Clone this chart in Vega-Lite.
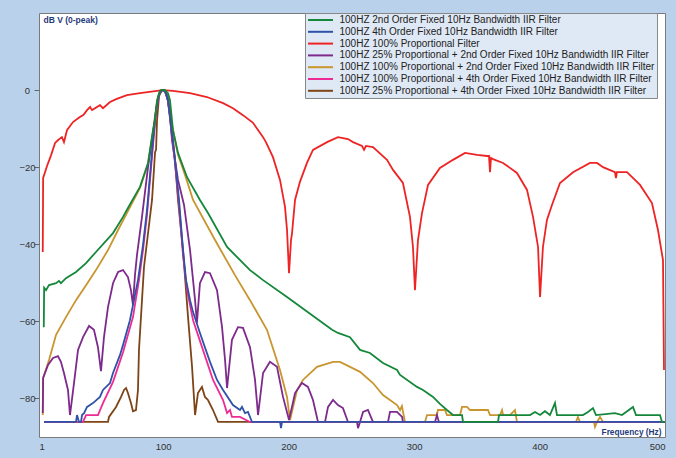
{
  "$schema": "https://vega.github.io/schema/vega-lite/v6.json",
  "width": 626,
  "height": 424,
  "autosize": {"type": "none"},
  "padding": {"left": 39, "top": 13, "right": 11, "bottom": 21},
  "background": "#b9d1ea",
  "config": {
    "font": "Liberation Sans",
    "view": {"stroke": "#7a7a7a", "fill": "white", "strokeWidth": 1}
  },
  "datasets": {
    "names": [
      {"k": 1, "series": "100HZ 2nd Order Fixed 10Hz Bandwidth IIR Filter"},
      {"k": 2, "series": "100HZ 4th Order Fixed 10Hz Bandwidth IIR Filter"},
      {"k": 3, "series": "100HZ 100% Proportional Filter"},
      {"k": 4, "series": "100HZ 25% Proportional + 2nd Order Fixed 10Hz Bandwidth IIR Filter"},
      {"k": 5, "series": "100HZ 100% Proportional + 2nd Order Fixed 10Hz Bandwidth IIR Filter"},
      {"k": 6, "series": "100HZ 100% Proportional + 4th Order Fixed 10Hz Bandwidth IIR Filter"},
      {"k": 7, "series": "100HZ 25% Proportional + 4th Order Fixed 10Hz Bandwidth IIR Filter"}
    ],
    "curves": [
      {"k":1,"hz":4.8,"db":-61.5},{"k":1,"hz":5.1,"db":-51.3},{"k":1,"hz":6.6,"db":-51.9},{"k":1,"hz":9.0,"db":-50.6},
      {"k":1,"hz":14.6,"db":-50.1},{"k":1,"hz":16.9,"db":-49.5},{"k":1,"hz":18.5,"db":-50.1},{"k":1,"hz":22.5,"db":-48.8},
      {"k":1,"hz":30.5,"db":-47.2},{"k":1,"hz":38.5,"db":-44.9},{"k":1,"hz":46.4,"db":-42.0},{"k":1,"hz":60.0,"db":-37.1},
      {"k":1,"hz":68.0,"db":-32.9},{"k":1,"hz":71.9,"db":-30.6},{"k":1,"hz":81.5,"db":-25.1},{"k":1,"hz":87.9,"db":-18.9},
      {"k":1,"hz":91.9,"db":-10.4},{"k":1,"hz":93.5,"db":-7.8},{"k":1,"hz":95.1,"db":-2.6},{"k":1,"hz":96.7,"db":-0.8},
      {"k":1,"hz":98.3,"db":0},{"k":1,"hz":101.4,"db":0},{"k":1,"hz":103.8,"db":-0.8},{"k":1,"hz":105.4,"db":-2.6},
      {"k":1,"hz":107.8,"db":-10.4},{"k":1,"hz":111.8,"db":-16.3},{"k":1,"hz":119.0,"db":-22.6},{"k":1,"hz":129.3,"db":-28.5},
      {"k":1,"hz":135.7,"db":-31.9},{"k":1,"hz":150.9,"db":-40.7},{"k":1,"hz":169.2,"db":-46.7},{"k":1,"hz":179.6,"db":-49.3},
      {"k":1,"hz":198.7,"db":-53.7},{"k":1,"hz":234.6,"db":-62.2},{"k":1,"hz":239.3,"db":-63.0},{"k":1,"hz":248.9,"db":-64.1},
      {"k":1,"hz":256.9,"db":-67.4},{"k":1,"hz":264.8,"db":-68.2},{"k":1,"hz":275.2,"db":-70.8},{"k":1,"hz":286.4,"db":-72.6},
      {"k":1,"hz":288.8,"db":-73.9},{"k":1,"hz":302.3,"db":-77.0},{"k":1,"hz":307.1,"db":-77.8},{"k":1,"hz":315.1,"db":-79.6},
      {"k":1,"hz":320.6,"db":-81.4},{"k":1,"hz":326.2,"db":-83.0},{"k":1,"hz":331.0,"db":-84.3},{"k":1,"hz":338.2,"db":-84.3},
      {"k":1,"hz":339.0,"db":-86.1},{"k":1,"hz":366.9,"db":-86.1},{"k":1,"hz":367.7,"db":-84.3},{"k":1,"hz":392.4,"db":-84.3},
      {"k":1,"hz":396.4,"db":-83.5},{"k":1,"hz":400.4,"db":-84.3},{"k":1,"hz":404.3,"db":-83.3},{"k":1,"hz":408.3,"db":-84.3},
      {"k":1,"hz":412.3,"db":-81.2},{"k":1,"hz":413.9,"db":-84.3},{"k":1,"hz":434.6,"db":-84.3},{"k":1,"hz":438.6,"db":-83.5},
      {"k":1,"hz":442.6,"db":-82.5},{"k":1,"hz":445.0,"db":-84.3},{"k":1,"hz":460.1,"db":-83.8},{"k":1,"hz":465.7,"db":-84.3},
      {"k":1,"hz":474.5,"db":-82.2},{"k":1,"hz":476.9,"db":-84.3},{"k":1,"hz":496.0,"db":-84.3},{"k":1,"hz":497.6,"db":-86.1},
      {"k":1,"hz":500,"db":-86.1},

      {"k":2,"hz":5.0,"db":-86.1},{"k":2,"hz":30.5,"db":-86.1},{"k":2,"hz":31.3,"db":-84.3},{"k":2,"hz":32.9,"db":-86.1},
      {"k":2,"hz":34.5,"db":-86.1},{"k":2,"hz":35.3,"db":-84.3},{"k":2,"hz":36.9,"db":-83.8},{"k":2,"hz":39.3,"db":-82.2},
      {"k":2,"hz":41.7,"db":-81.7},{"k":2,"hz":44.0,"db":-81.2},{"k":2,"hz":49.6,"db":-79.6},{"k":2,"hz":52.0,"db":-77.8},
      {"k":2,"hz":57.6,"db":-76.0},{"k":2,"hz":60.0,"db":-73.4},{"k":2,"hz":65.6,"db":-68.7},{"k":2,"hz":68.0,"db":-66.1},
      {"k":2,"hz":73.5,"db":-59.7},{"k":2,"hz":75.9,"db":-55.8},{"k":2,"hz":79.9,"db":-49.3},{"k":2,"hz":83.9,"db":-40.2},
      {"k":2,"hz":87.1,"db":-31.1},{"k":2,"hz":89.5,"db":-22.0},{"k":2,"hz":91.9,"db":-13.0},{"k":2,"hz":94.3,"db":-5.2},
      {"k":2,"hz":96.7,"db":-1.0},{"k":2,"hz":99.0,"db":0},{"k":2,"hz":101.4,"db":-0.2},{"k":2,"hz":103.8,"db":-2.6},
      {"k":2,"hz":106.2,"db":-9.1},{"k":2,"hz":109.4,"db":-18.1},{"k":2,"hz":112.6,"db":-28.5},{"k":2,"hz":115.8,"db":-41.5},
      {"k":2,"hz":118.2,"db":-49.3},{"k":2,"hz":121.4,"db":-54.5},{"k":2,"hz":123.8,"db":-57.6},{"k":2,"hz":129.3,"db":-63.0},
      {"k":2,"hz":137.3,"db":-70.5},{"k":2,"hz":142.9,"db":-75.2},{"k":2,"hz":147.7,"db":-77.8},{"k":2,"hz":155.6,"db":-81.7},
      {"k":2,"hz":161.2,"db":-83.0},{"k":2,"hz":162.8,"db":-82.2},{"k":2,"hz":165.2,"db":-83.8},{"k":2,"hz":167.6,"db":-83.5},
      {"k":2,"hz":170.8,"db":-86.1},{"k":2,"hz":193.1,"db":-86.1},{"k":2,"hz":193.9,"db":-87.7},{"k":2,"hz":194.7,"db":-86.1},
      {"k":2,"hz":500,"db":-86.1},

      {"k":3,"hz":4.0,"db":-42.0},{"k":3,"hz":4.3,"db":-22.8},{"k":3,"hz":7.4,"db":-19.7},{"k":3,"hz":10.5,"db":-17.0},{"k":3,"hz":13.8,"db":-13.7},
      {"k":3,"hz":16.5,"db":-12.9},{"k":3,"hz":19.3,"db":-12.2},{"k":3,"hz":20.9,"db":-13.5},{"k":3,"hz":23.3,"db":-10.4},{"k":3,"hz":28.1,"db":-8.3},
      {"k":3,"hz":33.0,"db":-7.1},{"k":3,"hz":36.5,"db":-6.4},{"k":3,"hz":39.3,"db":-5.2},{"k":3,"hz":41.7,"db":-4.4},{"k":3,"hz":43.3,"db":-5.2},{"k":3,"hz":49.6,"db":-3.9},
      {"k":3,"hz":52.0,"db":-4.7},{"k":3,"hz":57.6,"db":-3.1},{"k":3,"hz":63.0,"db":-2.3},{"k":3,"hz":71.1,"db":-1.3},{"k":3,"hz":81.5,"db":-0.8},
      {"k":3,"hz":95.1,"db":-0.2},{"k":3,"hz":99.8,"db":0},{"k":3,"hz":107.8,"db":-0.2},{"k":3,"hz":121.4,"db":-0.8},
      {"k":3,"hz":134.9,"db":-1.8},{"k":3,"hz":147.7,"db":-3.4},{"k":3,"hz":155.6,"db":-4.7},{"k":3,"hz":163.6,"db":-6.5},
      {"k":3,"hz":171.6,"db":-8.5},{"k":3,"hz":179.6,"db":-12.2},{"k":3,"hz":181.9,"db":-13.5},{"k":3,"hz":187.5,"db":-17.4},
      {"k":3,"hz":193.1,"db":-23.3},{"k":3,"hz":197.1,"db":-30.3},{"k":3,"hz":198.7,"db":-36.3},{"k":3,"hz":200.3,"db":-47.5},
      {"k":3,"hz":201.9,"db":-38.9},{"k":3,"hz":202.7,"db":-37.1},{"k":3,"hz":205.1,"db":-28.5},{"k":3,"hz":209.0,"db":-23.8},
      {"k":3,"hz":214.6,"db":-18.9},{"k":3,"hz":219.4,"db":-15.5},{"k":3,"hz":230.6,"db":-13.5},{"k":3,"hz":239.3,"db":-12.2},
      {"k":3,"hz":247.3,"db":-12.7},{"k":3,"hz":251.3,"db":-13.5},{"k":3,"hz":258.5,"db":-14.5},{"k":3,"hz":260.1,"db":-15.5},
      {"k":3,"hz":261.6,"db":-14.5},{"k":3,"hz":267.2,"db":-14.8},{"k":3,"hz":278.4,"db":-18.1},{"k":3,"hz":283.2,"db":-20.7},
      {"k":3,"hz":291.1,"db":-24.1},{"k":3,"hz":296.7,"db":-32.9},{"k":3,"hz":299.1,"db":-40.7},{"k":3,"hz":300.7,"db":-51.9},
      {"k":3,"hz":303.1,"db":-38.9},{"k":3,"hz":306.3,"db":-31.9},{"k":3,"hz":311.1,"db":-24.6},{"k":3,"hz":320.6,"db":-20.2},
      {"k":3,"hz":331.0,"db":-18.1},{"k":3,"hz":340.6,"db":-16.3},{"k":3,"hz":350.1,"db":-16.8},{"k":3,"hz":358.1,"db":-17.1},
      {"k":3,"hz":359.7,"db":-17.1},{"k":3,"hz":360.5,"db":-21.3},{"k":3,"hz":361.3,"db":-17.6},{"k":3,"hz":362.9,"db":-17.9},
      {"k":3,"hz":370.9,"db":-18.9},{"k":3,"hz":382.0,"db":-21.5},{"k":3,"hz":390.0,"db":-25.9},{"k":3,"hz":394.8,"db":-32.9},
      {"k":3,"hz":398.8,"db":-40.7},{"k":3,"hz":400.4,"db":-53.7},{"k":3,"hz":402.7,"db":-40.7},{"k":3,"hz":405.9,"db":-33.7},
      {"k":3,"hz":409.9,"db":-29.8},{"k":3,"hz":416.3,"db":-24.1},{"k":3,"hz":426.7,"db":-21.3},{"k":3,"hz":440.2,"db":-18.9},
      {"k":3,"hz":445.8,"db":-18.9},{"k":3,"hz":450.6,"db":-20.0},{"k":3,"hz":460.1,"db":-21.3},{"k":3,"hz":460.9,"db":-22.8},
      {"k":3,"hz":461.7,"db":-21.3},{"k":3,"hz":469.7,"db":-21.3},{"k":3,"hz":480.1,"db":-24.6},{"k":3,"hz":489.6,"db":-29.3},
      {"k":3,"hz":494.4,"db":-36.3},{"k":3,"hz":498.4,"db":-44.1},{"k":3,"hz":499.2,"db":-72.6},

      {"k":4,"hz":4.0,"db":-83.8},{"k":4,"hz":4.3,"db":-74.7},{"k":4,"hz":8.2,"db":-71.3},{"k":4,"hz":12.2,"db":-69.5},
      {"k":4,"hz":16.1,"db":-69.0},{"k":4,"hz":18.5,"db":-70.5},{"k":4,"hz":20.9,"db":-73.4},{"k":4,"hz":24.1,"db":-77.8},
      {"k":4,"hz":25.7,"db":-84.3},{"k":4,"hz":28.9,"db":-76.0},{"k":4,"hz":32.1,"db":-67.4},{"k":4,"hz":36.1,"db":-64.1},
      {"k":4,"hz":40.9,"db":-61.2},{"k":4,"hz":44.8,"db":-62.2},{"k":4,"hz":48.0,"db":-66.7},{"k":4,"hz":50.4,"db":-72.9},
      {"k":4,"hz":52.8,"db":-64.1},{"k":4,"hz":56.0,"db":-56.3},{"k":4,"hz":60.0,"db":-50.1},{"k":4,"hz":64.0,"db":-47.2},
      {"k":4,"hz":68.0,"db":-46.7},{"k":4,"hz":71.9,"db":-48.5},{"k":4,"hz":74.3,"db":-51.9},{"k":4,"hz":75.9,"db":-55.8},
      {"k":4,"hz":77.5,"db":-48.0},{"k":4,"hz":79.1,"db":-42.8},{"k":4,"hz":83.1,"db":-32.9},{"k":4,"hz":87.9,"db":-20.0},
      {"k":4,"hz":91.9,"db":-11.1},{"k":4,"hz":95.1,"db":-3.4},{"k":4,"hz":97.5,"db":-0.2},{"k":4,"hz":100.6,"db":0},
      {"k":4,"hz":103.0,"db":-1.3},{"k":4,"hz":105.4,"db":-6.5},{"k":4,"hz":107.0,"db":-13.0},{"k":4,"hz":111.8,"db":-23.3},
      {"k":4,"hz":116.6,"db":-29.8},{"k":4,"hz":121.4,"db":-41.5},{"k":4,"hz":125.4,"db":-54.5},{"k":4,"hz":126.9,"db":-60.4},
      {"k":4,"hz":129.3,"db":-50.1},{"k":4,"hz":133.3,"db":-47.2},{"k":4,"hz":137.3,"db":-47.5},{"k":4,"hz":142.9,"db":-51.9},
      {"k":4,"hz":146.9,"db":-61.5},{"k":4,"hz":149.3,"db":-70.0},{"k":4,"hz":150.9,"db":-77.3},{"k":4,"hz":154.8,"db":-64.8},
      {"k":4,"hz":159.6,"db":-61.5},{"k":4,"hz":163.6,"db":-61.7},{"k":4,"hz":169.2,"db":-66.7},{"k":4,"hz":173.2,"db":-75.2},
      {"k":4,"hz":175.6,"db":-84.3},{"k":4,"hz":179.6,"db":-73.4},{"k":4,"hz":185.1,"db":-70.5},{"k":4,"hz":190.7,"db":-71.8},
      {"k":4,"hz":195.5,"db":-79.6},{"k":4,"hz":200.3,"db":-85.6},{"k":4,"hz":205.1,"db":-78.6},{"k":4,"hz":210.6,"db":-76.0},
      {"k":4,"hz":215.4,"db":-77.0},{"k":4,"hz":219.4,"db":-80.4},{"k":4,"hz":223.4,"db":-86.1},{"k":4,"hz":229.0,"db":-86.1},
      {"k":4,"hz":231.4,"db":-82.2},{"k":4,"hz":235.4,"db":-80.4},{"k":4,"hz":239.3,"db":-81.7},{"k":4,"hz":243.3,"db":-82.5},
      {"k":4,"hz":247.3,"db":-86.1},{"k":4,"hz":254.5,"db":-86.1},{"k":4,"hz":255.3,"db":-87.7},{"k":4,"hz":256.9,"db":-86.1},
      {"k":4,"hz":259.3,"db":-83.5},{"k":4,"hz":263.2,"db":-83.0},{"k":4,"hz":267.2,"db":-86.1},{"k":4,"hz":279.2,"db":-86.1},
      {"k":4,"hz":280.8,"db":-83.5},{"k":4,"hz":286.4,"db":-83.5},{"k":4,"hz":290.4,"db":-84.8},{"k":4,"hz":291.1,"db":-86.1},
      {"k":4,"hz":316.7,"db":-86.1},{"k":4,"hz":318.2,"db":-84.3},{"k":4,"hz":319.8,"db":-86.1},{"k":4,"hz":500,"db":-86.1},

      {"k":5,"hz":4.0,"db":-84.3},{"k":5,"hz":4.3,"db":-74.7},{"k":5,"hz":9.0,"db":-70.0},{"k":5,"hz":14.6,"db":-63.5},
      {"k":5,"hz":22.5,"db":-58.9},{"k":5,"hz":30.5,"db":-54.5},{"k":5,"hz":38.5,"db":-50.6},{"k":5,"hz":46.4,"db":-46.7},
      {"k":5,"hz":56.0,"db":-41.5},{"k":5,"hz":64.0,"db":-36.3},{"k":5,"hz":71.9,"db":-31.4},{"k":5,"hz":81.5,"db":-25.4},
      {"k":5,"hz":87.9,"db":-19.2},{"k":5,"hz":91.9,"db":-10.6},{"k":5,"hz":95.1,"db":-2.9},{"k":5,"hz":98.3,"db":0},
      {"k":5,"hz":101.4,"db":0},{"k":5,"hz":104.6,"db":-2.9},{"k":5,"hz":107.0,"db":-9.0},{"k":5,"hz":111.8,"db":-16.8},
      {"k":5,"hz":117.4,"db":-22.0},{"k":5,"hz":123.8,"db":-28.5},{"k":5,"hz":141.3,"db":-38.9},{"k":5,"hz":157.2,"db":-48.0},
      {"k":5,"hz":169.2,"db":-54.5},{"k":5,"hz":182.7,"db":-62.2},{"k":5,"hz":193.1,"db":-72.6},{"k":5,"hz":198.7,"db":-79.6},
      {"k":5,"hz":201.1,"db":-85.6},{"k":5,"hz":206.7,"db":-77.8},{"k":5,"hz":211.4,"db":-75.2},{"k":5,"hz":222.6,"db":-71.8},
      {"k":5,"hz":235.4,"db":-70.5},{"k":5,"hz":240.9,"db":-70.5},{"k":5,"hz":248.9,"db":-71.8},{"k":5,"hz":256.9,"db":-73.1},
      {"k":5,"hz":267.2,"db":-76.0},{"k":5,"hz":275.2,"db":-79.1},{"k":5,"hz":286.4,"db":-81.7},{"k":5,"hz":288.8,"db":-83.0},
      {"k":5,"hz":290.3,"db":-82.0},{"k":5,"hz":292.7,"db":-86.1},{"k":5,"hz":308.7,"db":-86.1},{"k":5,"hz":310.3,"db":-84.3},
      {"k":5,"hz":318.2,"db":-84.3},{"k":5,"hz":319.0,"db":-83.0},{"k":5,"hz":324.6,"db":-83.0},{"k":5,"hz":326.2,"db":-84.3},
      {"k":5,"hz":336.6,"db":-84.3},{"k":5,"hz":338.2,"db":-82.2},{"k":5,"hz":342.2,"db":-82.2},{"k":5,"hz":344.6,"db":-83.0},
      {"k":5,"hz":358.9,"db":-83.0},{"k":5,"hz":360.5,"db":-84.3},{"k":5,"hz":368.5,"db":-84.3},{"k":5,"hz":370.1,"db":-83.0},
      {"k":5,"hz":370.9,"db":-84.3},{"k":5,"hz":376.4,"db":-84.3},{"k":5,"hz":380.4,"db":-83.0},{"k":5,"hz":382.0,"db":-86.1},
      {"k":5,"hz":429.0,"db":-86.1},{"k":5,"hz":430.6,"db":-84.8},{"k":5,"hz":432.2,"db":-86.1},{"k":5,"hz":443.4,"db":-86.1},
      {"k":5,"hz":444.2,"db":-87.4},{"k":5,"hz":445.8,"db":-86.1},{"k":5,"hz":448.2,"db":-84.8},{"k":5,"hz":450.6,"db":-86.1},
      {"k":5,"hz":500,"db":-86.1},

      {"k":6,"hz":5.0,"db":-86.1},{"k":6,"hz":36.1,"db":-86.1},{"k":6,"hz":38.5,"db":-84.3},{"k":6,"hz":48.0,"db":-84.3},
      {"k":6,"hz":52.0,"db":-81.2},{"k":6,"hz":60.0,"db":-75.7},{"k":6,"hz":68.0,"db":-68.0},{"k":6,"hz":75.9,"db":-58.9},
      {"k":6,"hz":80.7,"db":-49.3},{"k":6,"hz":83.9,"db":-41.5},{"k":6,"hz":87.1,"db":-32.4},{"k":6,"hz":89.5,"db":-23.3},
      {"k":6,"hz":91.9,"db":-14.2},{"k":6,"hz":94.3,"db":-5.7},{"k":6,"hz":96.7,"db":-1.0},{"k":6,"hz":99.0,"db":0},
      {"k":6,"hz":101.4,"db":-0.2},{"k":6,"hz":103.8,"db":-2.6},{"k":6,"hz":106.2,"db":-9.6},{"k":6,"hz":109.4,"db":-18.9},
      {"k":6,"hz":112.6,"db":-29.8},{"k":6,"hz":115.8,"db":-42.8},{"k":6,"hz":119.0,"db":-51.9},{"k":6,"hz":123.8,"db":-59.7},
      {"k":6,"hz":131.7,"db":-67.4},{"k":6,"hz":139.7,"db":-75.2},{"k":6,"hz":147.7,"db":-80.4},{"k":6,"hz":150.9,"db":-83.8},
      {"k":6,"hz":153.3,"db":-83.0},{"k":6,"hz":154.8,"db":-84.8},{"k":6,"hz":161.2,"db":-84.8},{"k":6,"hz":169.2,"db":-86.1},
      {"k":6,"hz":500,"db":-86.1},

      {"k":7,"hz":5.0,"db":-86.1},{"k":7,"hz":56.0,"db":-86.1},{"k":7,"hz":56.8,"db":-84.8},{"k":7,"hz":62.4,"db":-82.2},
      {"k":7,"hz":66.4,"db":-79.6},{"k":7,"hz":68.8,"db":-77.8},{"k":7,"hz":70.4,"db":-77.3},{"k":7,"hz":71.9,"db":-78.6},
      {"k":7,"hz":74.3,"db":-81.2},{"k":7,"hz":75.9,"db":-83.3},{"k":7,"hz":78.3,"db":-83.0},{"k":7,"hz":79.9,"db":-77.8},
      {"k":7,"hz":80.7,"db":-67.4},{"k":7,"hz":83.1,"db":-54.5},{"k":7,"hz":84.7,"db":-45.9},{"k":7,"hz":86.3,"db":-41.5},
      {"k":7,"hz":88.7,"db":-35.0},{"k":7,"hz":91.1,"db":-28.5},{"k":7,"hz":93.5,"db":-16.1},{"k":7,"hz":94.3,"db":-15.5},
      {"k":7,"hz":95.1,"db":-7.8},{"k":7,"hz":96.7,"db":-1.5},{"k":7,"hz":99.0,"db":0},{"k":7,"hz":101.4,"db":-0.2},
      {"k":7,"hz":103.8,"db":-2.6},{"k":7,"hz":107.0,"db":-10.4},{"k":7,"hz":109.4,"db":-18.1},{"k":7,"hz":111.8,"db":-28.5},
      {"k":7,"hz":115.8,"db":-41.5},{"k":7,"hz":119.8,"db":-58.9},{"k":7,"hz":123.0,"db":-71.8},{"k":7,"hz":125.4,"db":-84.3},
      {"k":7,"hz":127.7,"db":-78.6},{"k":7,"hz":130.9,"db":-77.0},{"k":7,"hz":133.3,"db":-79.6},{"k":7,"hz":135.7,"db":-80.4},
      {"k":7,"hz":139.7,"db":-83.0},{"k":7,"hz":143.7,"db":-86.1},{"k":7,"hz":500,"db":-86.1}
    ]
  },
  "data": {"name": "curves"},
  "transform": [
    {"lookup": "k", "from": {"data": {"name": "names"}, "key": "k", "fields": ["series"]}}
  ],
  "encoding": {
    "x": {
      "field": "hz", "type": "quantitative",
      "scale": {"domain": [1, 500], "nice": false, "zero": false},
      "axis": {
        "values": [1, 100, 200, 300, 400, 500], "format": "d", "labelFlush": true,
        "title": "Frequency (Hz)", "titleX": 622, "titleY": -5, "titleAlign": "right",
        "titleBaseline": "middle", "titleFontSize": 8.3, "titleFontWeight": "bold", "titleColor": "#1f3b7c",
        "labelFontSize": 9.5, "labelColor": "#333333", "labelPadding": 4,
        "ticks": false, "domain": false, "grid": false
      }
    },
    "y": {
      "field": "db", "type": "quantitative",
      "scale": {"domain": [-90, 20], "nice": false, "zero": false},
      "axis": {
        "values": [-80, -60, -40, -20, 0],
        "title": "dB V (0-peak)", "titleAngle": 0, "titleX": 4, "titleY": 6, "titleAlign": "left",
        "titleBaseline": "middle", "titleFontSize": 8.5, "titleFontWeight": "bold", "titleColor": "#1f3b7c",
        "labelFontSize": 9.5, "labelColor": "#333333", "labelAlign": "center", "labelPadding": 7,
        "tickSize": 5, "tickColor": "#666666", "domain": false, "grid": false
      }
    },
    "color": {
      "field": "series", "type": "nominal",
      "scale": {
        "domain": [
          "100HZ 2nd Order Fixed 10Hz Bandwidth IIR Filter",
          "100HZ 4th Order Fixed 10Hz Bandwidth IIR Filter",
          "100HZ 100% Proportional Filter",
          "100HZ 25% Proportional + 2nd Order Fixed 10Hz Bandwidth IIR Filter",
          "100HZ 100% Proportional + 2nd Order Fixed 10Hz Bandwidth IIR Filter",
          "100HZ 100% Proportional + 4th Order Fixed 10Hz Bandwidth IIR Filter",
          "100HZ 25% Proportional + 4th Order Fixed 10Hz Bandwidth IIR Filter"
        ],
        "range": ["#15873b", "#2f52a8", "#ee2424", "#7d2a8c", "#c8952e", "#ee2b93", "#7d4517"]
      },
      "legend": {
        "title": null, "orient": "none", "legendX": 266, "legendY": 0,
        "symbolType": "M-3.125,0L3.125,0", "symbolSize": 64, "symbolStrokeWidth": 2,
        "symbolOffset": 8.5,
        "labelFontSize": 10, "labelColor": "#222222", "labelLimit": 400, "labelOffset": 14,
        "rowPadding": 1.8, "padding": 2, "fillColor": "#dfe9f5", "strokeColor": "#888888"
      }
    }
  },
  "layer": [
    {"transform": [{"filter": "datum.k == 3"}], "mark": {"type": "line", "strokeWidth": 1.8, "clip": true}, "encoding": {}},
    {"transform": [{"filter": "datum.k == 5"}], "mark": {"type": "line", "strokeWidth": 1.8, "clip": true}, "encoding": {}},
    {"transform": [{"filter": "datum.k == 4"}], "mark": {"type": "line", "strokeWidth": 1.8, "clip": true}, "encoding": {}},
    {"transform": [{"filter": "datum.k == 7"}], "mark": {"type": "line", "strokeWidth": 1.8, "clip": true}, "encoding": {}},
    {"transform": [{"filter": "datum.k == 6"}], "mark": {"type": "line", "strokeWidth": 1.8, "clip": true}, "encoding": {}},
    {"transform": [{"filter": "datum.k == 2"}], "mark": {"type": "line", "strokeWidth": 1.8, "clip": true}, "encoding": {}},
    {"transform": [{"filter": "datum.k == 1"}], "mark": {"type": "line", "strokeWidth": 1.8, "clip": true}, "encoding": {}}
  ]
}
